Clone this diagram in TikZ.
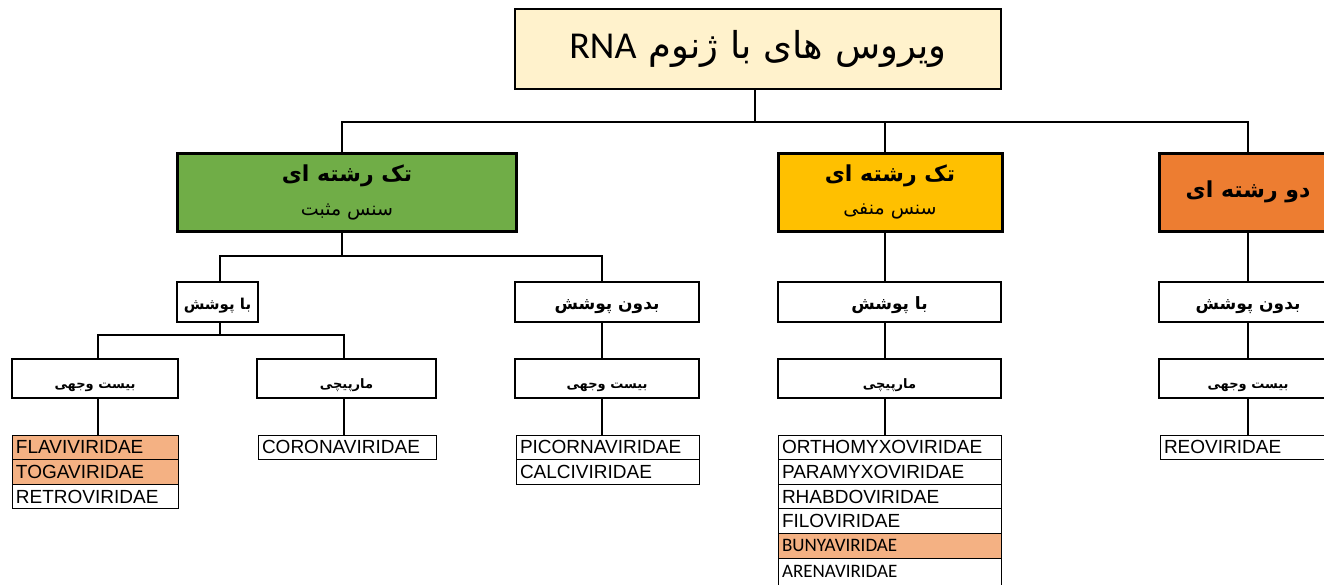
\documentclass[tikz,border=0pt]{standalone}
\usepackage{fontspec}
\TeXXeTstate=1
\setmainfont{Liberation Sans}
\newfontfamily\arb[Script=Arabic]{DejaVu Sans}
\newfontfamily\carl{Carlito}
\definecolor{titlefill}{HTML}{FFF2CC}
\definecolor{grn}{HTML}{70AD47}
\definecolor{yel}{HTML}{FFC000}
\definecolor{org}{HTML}{ED7D31}
\definecolor{hl}{HTML}{F4B183}
\tikzset{
  lvlbox/.style={draw, line width=3pt, inner sep=0pt, align=center, minimum height=78pt},
  subbox/.style={draw, line width=1.8pt, inner sep=0pt, align=center, minimum height=40pt, fill=white},
  rowbox/.style={draw, line width=0.8pt, inner xsep=4pt, inner ysep=0pt, outer sep=0pt, minimum height=24.6pt,
    anchor=north west, text width=#1, align=left, fill=white, font=\fontsize{19}{22}\selectfont},
  conn/.style={line width=1.5pt},
  subA/.style={font=\arb\bfseries\fontsize{17}{20}\selectfont, text height=15pt, text depth=0pt},
  subB/.style={font=\arb\bfseries\fontsize{13}{16}\selectfont, text height=20pt, text depth=0pt}
}
\begin{document}
\begin{tikzpicture}[x=1pt,y=-1pt]
\useasboundingbox (0,0) rectangle (1324,584);
\clip (0,0) rectangle (1324,584);

% level 0
\node[draw, line width=1.5pt, fill=titlefill, minimum width=486pt, minimum height=80pt, inner sep=0pt] (title) at (758,49)
  {\arb\fontsize{37}{42}\selectfont\beginR ویروس های با ژنوم \beginL{\carl\fontsize{38}{42}\selectfont RNA}\endL\endR};

% level 1
\node[lvlbox, fill=grn, minimum width=339pt] (pos) at (347,192)
  {{\arb\bfseries\fontsize{22}{26}\selectfont\beginR تک رشته ای\endR}\\[16pt]{\arb\fontsize{19}{22}\selectfont\beginR سنس مثبت\endR}};
\node[lvlbox, fill=yel, minimum width=224pt] (neg) at (890,192)
  {{\arb\bfseries\fontsize{22}{26}\selectfont\beginR تک رشته ای\endR}\\[16pt]{\arb\fontsize{19}{22}\selectfont\beginR سنس منفی\endR}};
\node[lvlbox, fill=org, minimum width=178pt] (ds) at (1248,192)
  {{\arb\bfseries\fontsize{22}{26}\selectfont\beginR دو رشته ای\endR}};

% level 2
\node[subbox, subA, font=\arb\bfseries\fontsize{15}{18}\selectfont, minimum width=81pt] (bp1) at (217.5,302) {\beginR با پوشش\endR};
\node[subbox, subA, minimum width=184pt] (bdp1) at (607,302) {\beginR بدون پوشش\endR};
\node[subbox, subA, minimum width=223pt] (bp2) at (889.5,302) {\beginR با پوشش\endR};
\node[subbox, subA, minimum width=178pt] (bdp2) at (1248,302) {\beginR بدون پوشش\endR};

% level 3
\node[subbox, subB, minimum width=166pt, minimum height=39pt] (bv1) at (95,378.5) {\beginR بیست وجهی\endR};
\node[subbox, subB, minimum width=179pt, minimum height=39pt] (mp1) at (346.5,378.5) {\beginR مارپیچی\endR};
\node[subbox, subB, minimum width=184pt, minimum height=39pt] (bv2) at (607,378.5) {\beginR بیست وجهی\endR};
\node[subbox, subB, minimum width=223pt, minimum height=39pt] (mp2) at (889.5,378.5) {\beginR مارپیچی\endR};
\node[subbox, subB, minimum width=178pt, minimum height=39pt] (bv3) at (1248,378.5) {\beginR بیست وجهی\endR};

% lists
\node[rowbox=158pt, fill=hl] (flav) at (12,435) {FLAVIVIRIDAE};
\node[rowbox=158pt, fill=hl] (toga) at (flav.south west) {TOGAVIRIDAE};
\node[rowbox=158pt] (retro) at (toga.south west) {RETROVIRIDAE};

\node[rowbox=170pt] (corona) at (258,435) {CORONAVIRIDAE};

\node[rowbox=175pt] (pic) at (516,435) {PICORNAVIRIDAE};
\node[rowbox=175pt] (calc) at (pic.south west) {CALCIVIRIDAE};

\node[rowbox=215pt] (ortho) at (778,435) {ORTHOMYXOVIRIDAE};
\node[rowbox=215pt] (para) at (ortho.south west) {PARAMYXOVIRIDAE};
\node[rowbox=215pt] (rhab) at (para.south west) {RHABDOVIRIDAE};
\node[rowbox=215pt] (filo) at (rhab.south west) {FILOVIRIDAE};
\node[rowbox=215pt, fill=hl, font=\carl\fontsize{19}{22}\selectfont] (bunya) at (filo.south west) {BUNYAVIRIDAE};
\node[rowbox=215pt, font=\carl\fontsize{19}{22}\selectfont, minimum height=27pt] (arena) at (bunya.south west) {ARENAVIRIDAE};

\node[rowbox=170pt] (reo) at (1160,435) {REOVIRIDAE};

% connectors
\coordinate (b1) at (0,122);
\coordinate (b2) at (0,256);
\coordinate (b3) at (0,335);
\draw[conn] ([xshift=-3pt]title.south) -- ([xshift=-3pt]title.south |- b1);
\draw[conn] ([xshift=-5pt]pos.north) -- ([xshift=-5pt]pos.north |- b1) -- (ds.north |- b1) -- (ds.north);
\draw[conn] ([xshift=-5pt]neg.north) -- ([xshift=-5pt]neg.north |- b1);

\draw[conn] ([xshift=-5pt]pos.south) -- ([xshift=-5pt]pos.south |- b2);
\draw[conn] ([xshift=2.5pt]bp1.north) -- ([xshift=2.5pt]bp1.north |- b2) -- ([xshift=-5pt]bdp1.north |- b2) -- ([xshift=-5pt]bdp1.north);

\draw[conn] ([xshift=2.5pt]bp1.south) -- ([xshift=2.5pt]bp1.south |- b3);
\draw[conn] ([xshift=3pt]bv1.north) -- ([xshift=3pt]bv1.north |- b3) -- ([xshift=-2.5pt]mp1.north |- b3) -- ([xshift=-2.5pt]mp1.north);
\draw[conn] ([xshift=3pt]bv1.south) -- ([xshift=3pt]bv1.south |- flav.north);
\draw[conn] ([xshift=-2.5pt]mp1.south) -- ([xshift=-2.5pt]mp1.south |- corona.north);

\draw[conn] ([xshift=-5pt]bdp1.south) -- ([xshift=-5pt]bdp1.south |- bv2.north);
\draw[conn] ([xshift=-5pt]bv2.south) -- ([xshift=-5pt]bv2.south |- pic.north);

\draw[conn] ([xshift=-5pt]neg.south) -- ([xshift=-5pt]neg.south |- bp2.north);
\draw[conn] ([xshift=-4.5pt]bp2.south) -- ([xshift=-4.5pt]bp2.south |- mp2.north);
\draw[conn] ([xshift=-4.5pt]mp2.south) -- ([xshift=-4.5pt]mp2.south |- ortho.north);

\draw[conn] (ds.south) -- (bdp2.north);
\draw[conn] (bdp2.south) -- (bv3.north);
\draw[conn] (bv3.south) -- (bv3.south |- reo.north);
\end{tikzpicture}
\end{document}
